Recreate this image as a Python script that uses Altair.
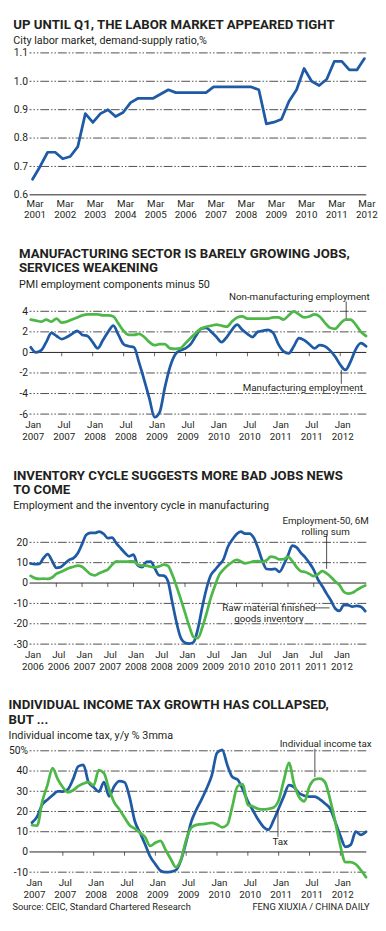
import altair as alt
import pandas as pd

FONT = "Roboto"
INK = "#231f20"
BLUE = "#1f5aa5"
GREEN = "#4db848"
W = 344
L_PAGE = 29.5  # estimated page x of plot left edge
DASH = [9, 2, 1.5, 2, 1.5, 2]

# ---------------- data ----------------
# Panel 1: quarterly, Mar 2001 .. Mar 2012
p1_ratio = [0.655, 0.70, 0.75, 0.75, 0.727, 0.735, 0.77, 0.886, 0.855, 0.886,
            0.90, 0.876, 0.89, 0.925, 0.94, 0.94, 0.94, 0.955, 0.97, 0.96,
            0.96, 0.96, 0.96, 0.96, 0.98, 0.98, 0.98, 0.98, 0.98, 0.98,
            0.97, 0.85, 0.856, 0.866, 0.93, 0.97, 1.045, 1.0, 0.985, 1.007,
            1.07, 1.07, 1.04, 1.04, 1.08]
p1_years = list(range(2001, 2013))

# Panel 2: monthly, Jan 2007 .. Jun 2012
p2_mfg = [0.5, 0.0, 0.2, 1.0, 1.9, 1.6, 1.3, 1.5, 1.8, 2.1,
          1.7, 1.6, 1.0, 0.4, 1.2, 2.0, 2.6, 1.7, 0.8, 0.6,
          0.5, -1.0, -2.7, -4.5, -6.3, -5.8, -3.4, -1.4, -0.2, 0.2,
          0.4, 0.8, 1.6, 2.3, 2.4, 2.0, 1.5, 1.0, 1.5, 2.2,
          2.7, 2.2, 1.8, 1.5, 2.0, 2.1, 2.2, 1.9, 0.8, 0.1,
          -0.1, 0.6, 1.4, 1.2, 0.8, 0.4, 0.7, 0.6, 0.2, -0.4,
          -1.2, -1.7, -0.9, 0.3, 0.9, 0.6]
p2_nonmfg = [3.2, 3.1, 3.0, 3.2, 3.0, 3.3, 2.9, 3.0, 3.2, 3.4,
             3.6, 3.7, 3.7, 3.7, 3.6, 3.6, 3.5, 2.8, 2.1, 1.7,
             1.7, 1.8, 1.5, 1.0, 0.7, 0.8, 0.8, 0.4, 0.35, 0.4,
             0.9, 1.4, 1.9, 2.3, 2.5, 2.6, 2.7, 2.6, 2.5, 3.0,
             3.4, 3.5, 3.3, 3.3, 3.3, 3.3, 3.3, 3.4, 3.4, 3.2,
             3.6, 4.0, 3.7, 3.4, 3.5, 3.7, 3.5, 2.9, 2.4, 2.3,
             2.8, 3.2, 3.2, 2.7, 2.0, 1.6]

# Panel 3: monthly, Jan 2006 .. Jul 2012
p3_emp = [9.6, 9.3, 9.4, 12.2, 14.2, 11.0, 7.5, 7.8, 9.6, 11.4,
          12.2, 14.6, 19.1, 23.7, 24.6, 24.6, 25.3, 24.2, 22.1, 22.3,
          19.5, 17.1, 14.8, 13.1, 14.0, 8.6, 7.8, 10.4, 10.5, 7.0,
          3.8, 3.6, 1.0, -9.2, -19.2, -26.9, -29.3, -29.7, -29.0, -22.5,
          -12.0, -2.8, 3.8, 6.5, 9.0, 11.8, 17.8, 21.3, 24.0, 25.3,
          24.3, 24.3, 22.3, 17.2, 11.0, 6.9, 6.7, 7.0, 5.5, 8.9,
          13.6, 18.4, 17.5, 14.8, 12.6, 9.8, 6.5, 1.7, -1.6, -5.2,
          -8.6, -12.5, -13.7, -10.8, -10.8, -11.6, -11.2, -11.7, -13.8]
p3_inv = [3.5, 2.4, 2.0, 2.2, 2.0, 2.7, 4.5, 5.4, 6.4, 7.4,
          8.0, 8.6, 8.0, 6.2, 4.3, 3.8, 4.8, 5.7, 6.6, 9.0,
          10.6, 10.5, 10.5, 10.6, 10.7, 9.0, 8.6, 8.6, 8.0, 7.7,
          8.2, 9.0, 8.5, 4.3, -1.5, -7.9, -14.5, -21.3, -26.5, -27.0,
          -22.0, -15.0, -7.3, -1.2, 4.1, 6.7, 8.7, 10.3, 11.4, 10.6,
          9.7, 10.1, 10.6, 10.8, 10.3, 11.2, 13.0, 12.6, 11.6, 11.7,
          12.8, 10.8, 7.8, 5.8, 5.4, 4.5, 3.4, 4.3, 5.9, 4.7,
          3.0, 0.8, -1.0, -4.3, -5.2, -4.8, -3.5, -2.2, -1.2]

# Panel 4: monthly, Jan 2007 .. Jun 2012
p4_tax = [14.5, 17.5, 23.5, 25.8, 28.0, 30.0, 29.8, 31.0, 36.0, 42.3,
          43.0, 34.5, 32.0, 29.8, 34.5, 27.5, 32.5, 35.0, 34.5, 27.0,
          15.3, 9.6, 3.8, -2.3, -6.0, -9.3, -10.0, -9.8, -9.0, -4.0,
          5.0, 15.0, 21.0, 26.0, 31.5, 38.0, 49.0, 50.5, 43.0, 37.0,
          35.8, 31.0, 25.0, 20.5, 16.0, 12.5, 11.0, 15.6, 21.5, 27.5,
          33.0, 32.0, 29.0, 27.8, 27.3, 27.4, 26.0, 24.0, 21.5, 15.0,
          8.0, 2.5, 3.5, 10.0, 8.5, 10.0]
p4_iit = [13.2, 13.0, 25.0, 33.0, 41.5, 36.0, 32.0, 29.5, 30.5, 32.5,
          33.8, 34.5, 33.0, 40.5, 39.0, 31.0, 24.5, 21.0, 17.0, 13.2,
          11.5, 9.5, 7.3, 3.0, 4.5, 5.5, 1.0, -3.5, -7.5, -3.7,
          6.0, 12.0, 13.4, 13.7, 14.0, 14.4, 13.6, 12.2, 13.5, 22.8,
          32.5, 33.5, 23.3, 22.5, 21.3, 21.0, 21.3, 22.0, 25.5, 35.4,
          44.0, 33.5, 27.0, 25.0, 32.5, 35.8, 36.3, 34.5, 26.0, 15.0,
          3.0, -5.0, -5.0, -6.1, -9.0, -12.5]


def times(start_year, start_month, n, step=1):
    return [start_year + (start_month - 1 + i * step) / 12 for i in range(n)]


def series_df(values, start_year, start_month, step=1):
    return pd.DataFrame({"t": times(start_year, start_month, len(values), step), "v": values})


def page_to_t(dom, x_page):
    return dom[0] + (x_page - L_PAGE) * (dom[1] - dom[0]) / W


NEG_FMT = "datum.value < 0 ? '-' + abs(datum.value) : '' + datum.value"
HALF_YEAR_FMT = "[(datum.value % 1) < 0.25 ? 'Jan' : 'Jul', '' + floor(datum.value)]"


def panel(lines, xdom, xvals, xfmt, ydom, yvals, yfmt, grid_vals, solid_vals, tick_vals,
          height, title_lines, subtitle, title_offset, texts, vrules, hrules, interp,
          xpad=6):
    xs = alt.Scale(domain=xdom, nice=False, zero=False)
    ys = alt.Scale(domain=ydom, nice=False, zero=False)
    xaxis = alt.Axis(values=xvals, labelExpr=xfmt, title=None, grid=False, domain=False,
                     ticks=False, labelOverlap=False, labelFlush=False, labelBound=False,
                     labelFont=FONT, labelFontSize=10, labelColor=INK, labelPadding=xpad,
                     labelOffset=2, labelLineHeight=11.5, labelAlign="center",
                     labelBaseline="top")
    yaxis = alt.Axis(values=yvals, labelExpr=yfmt, title=None, grid=False, domain=False,
                     ticks=False, tickSize=0, labelOverlap=False, labelFlush=False,
                     labelFont=FONT, labelFontSize=10.5, labelColor=INK, labelPadding=2,
                     labelBaseline="middle")
    X = alt.X("t:Q", scale=xs, axis=xaxis)
    Y = alt.Y("v:Q", scale=ys, axis=yaxis)

    layers = []
    layers.append(alt.Chart(pd.DataFrame({"v": grid_vals})).mark_rule(
        color=INK, strokeWidth=0.8, strokeDash=DASH).encode(y=Y))
    layers.append(alt.Chart(pd.DataFrame({"v": solid_vals})).mark_rule(
        color=INK, strokeWidth=1).encode(y=Y))
    if tick_vals:
        layers.append(alt.Chart(pd.DataFrame({"t": tick_vals, "v": [0] * len(tick_vals)})).mark_tick(
            orient="vertical", size=4, thickness=1, yOffset=2, color=INK).encode(x=X, y=Y))
    for df, col in lines:
        layers.append(alt.Chart(df).mark_line(
            color=col, strokeWidth=2.8, interpolate=interp, strokeCap="round",
            strokeJoin="round").encode(x=X, y=Y))
    for (t, v, v2) in vrules:
        layers.append(alt.Chart(pd.DataFrame({"t": [t], "v": [v], "v2": [v2]})).mark_rule(
            color=INK, strokeWidth=0.8).encode(x=X, y=Y, y2="v2:Q"))
    for (t, t2, v) in hrules:
        layers.append(alt.Chart(pd.DataFrame({"t": [t], "t2": [t2], "v": [v]})).mark_rule(
            color=INK, strokeWidth=0.8).encode(x=X, x2="t2:Q", y=Y))
    for (t, v, label, align, size) in texts:
        layers.append(alt.Chart(pd.DataFrame({"t": [t], "v": [v], "label": [label]})).mark_text(
            font=FONT, fontSize=size, align=align, baseline="middle", color=INK,
            lineBreak="\n", lineHeight=11.5).encode(x=X, y=Y, text="label:N"))

    title = alt.TitleParams(
        text=title_lines, subtitle=subtitle, anchor="start", frame="bounds",
        font=FONT, fontSize=13.5, fontWeight="bold", color=INK, lineHeight=14.5,
        subtitleFont=FONT, subtitleFontSize=11, subtitleColor=INK, subtitlePadding=4,
        offset=title_offset)
    return alt.layer(*layers).properties(width=W, height=height, title=title)


# ---------------- panel 1 ----------------
d1 = (2001 + 2 / 12 - 0.1, 2012 + 2 / 12 + 0.06)
p1 = panel(
    lines=[(series_df(p1_ratio, 2001, 3, 3), BLUE)],
    xdom=list(d1), xvals=[y + 2 / 12 for y in p1_years],
    xfmt="['Mar', '' + floor(datum.value)]",
    ydom=[0.6, 1.1], yvals=[0.6, 0.7, 0.8, 0.9, 1.0, 1.1], yfmt="format(datum.value, '.1f')",
    grid_vals=[0.7, 0.8, 0.9, 1.0, 1.1], solid_vals=[0.6], tick_vals=[],
    height=145, title_lines=["UP UNTIL Q1, THE LABOR MARKET APPEARED TIGHT"],
    subtitle="City labor market, demand-supply ratio,%", title_offset=2,
    texts=[], vrules=[], hrules=[], interp="linear", xpad=4)

# ---------------- panel 2 ----------------
d2 = (2006.98, 2012.42)
half2 = [2007 + 0.5 * k for k in range(11)]
p2 = panel(
    lines=[(series_df(p2_mfg, 2007, 1), BLUE), (series_df(p2_nonmfg, 2007, 1), GREEN)],
    xdom=list(d2), xvals=half2, xfmt=HALF_YEAR_FMT,
    ydom=[-6, 4], yvals=[-6, -4, -2, 0, 2, 4], yfmt=NEG_FMT,
    grid_vals=[4, 2, -2, -4, -6], solid_vals=[0], tick_vals=half2[1:],
    height=105,
    title_lines=["MANUFACTURING SECTOR IS BARELY GROWING JOBS,", "SERVICES WEAKENING"],
    subtitle="PMI employment components minus 50", title_offset=3,
    texts=[(page_to_t(d2, 377), 5.35, "Non-manufacturing employment", "right", 10),
           (page_to_t(d2, 370), -3.5, "Manufacturing employment", "right", 10)],
    vrules=[(page_to_t(d2, 353), 4.95, 3.3), (page_to_t(d2, 348), -1.7, -3.05)],
    hrules=[], interp="monotone")

# ---------------- panel 3 ----------------
d3 = (2005.98, 2012.52)
half3 = [2006 + 0.5 * k for k in range(13)]
p3 = panel(
    lines=[(series_df(p3_emp, 2006, 1), BLUE), (series_df(p3_inv, 2006, 1), GREEN)],
    xdom=list(d3), xvals=half3, xfmt=HALF_YEAR_FMT,
    ydom=[-30, 20], yvals=[-30, -20, -10, 0, 10, 20], yfmt=NEG_FMT,
    grid_vals=[20, 10, -10, -20, -30], solid_vals=[0], tick_vals=half3[1:],
    height=104,
    title_lines=["INVENTORY CYCLE SUGGESTS MORE BAD JOBS NEWS", "TO COME"],
    subtitle="Employment and the inventory cycle in manufacturing", title_offset=5.5,
    texts=[(page_to_t(d3, 332), 30.4, "Employment-50, 6M\nrolling sum", "center", 10),
           (page_to_t(d3, 274), -12.3, "Raw material finished\ngoods inventory", "center", 10)],
    vrules=[(page_to_t(d3, 333), 23.3, 7.0)],
    hrules=[(page_to_t(d3, 320), page_to_t(d3, 336), -12.2)], interp="monotone")

# ---------------- panel 4 ----------------
d4 = (2006.96, 2012.42)
half4 = [2007 + 0.5 * k for k in range(11)]
p4 = panel(
    lines=[(series_df(p4_tax, 2007, 1), BLUE), (series_df(p4_iit, 2007, 1), GREEN)],
    xdom=list(d4), xvals=half4, xfmt=HALF_YEAR_FMT,
    ydom=[-10, 50], yvals=[-10, 0, 10, 20, 30, 40, 50],
    yfmt="datum.value == 50 ? '50%' : (" + NEG_FMT + ")",
    grid_vals=[50, 40, 30, 20, 10, -10], solid_vals=[0], tick_vals=half4[1:],
    height=124,
    title_lines=["INDIVIDUAL INCOME TAX GROWTH HAS COLLAPSED,", "BUT ..."],
    subtitle="Individual income tax, y/y % 3mma", title_offset=-2,
    texts=[(page_to_t(d4, 332), 53.5, "Individual income tax", "center", 10),
           (page_to_t(d4, 285.5), 4.8, "Tax", "center", 10),
           (page_to_t(d4, 12), -27, "Source: CEIC, Standard Chartered Research", "left", 9.5),
           (page_to_t(d4, 377), -27, "FENG XIUXIA / CHINA DAILY", "right", 9.5)],
    vrules=[(page_to_t(d4, 321), 51.0, 37.0), (page_to_t(d4, 283.3), 21.0, 7.5)],
    hrules=[], interp="monotone")

chart = alt.vconcat(p1, p2, p3, p4, spacing=27).properties(
    padding={"left": 0, "top": 0, "right": 0, "bottom": 0}, background="white"
).configure_view(stroke=None)

chart.save("out.html", embed_options={"renderer": "svg", "actions": False})
